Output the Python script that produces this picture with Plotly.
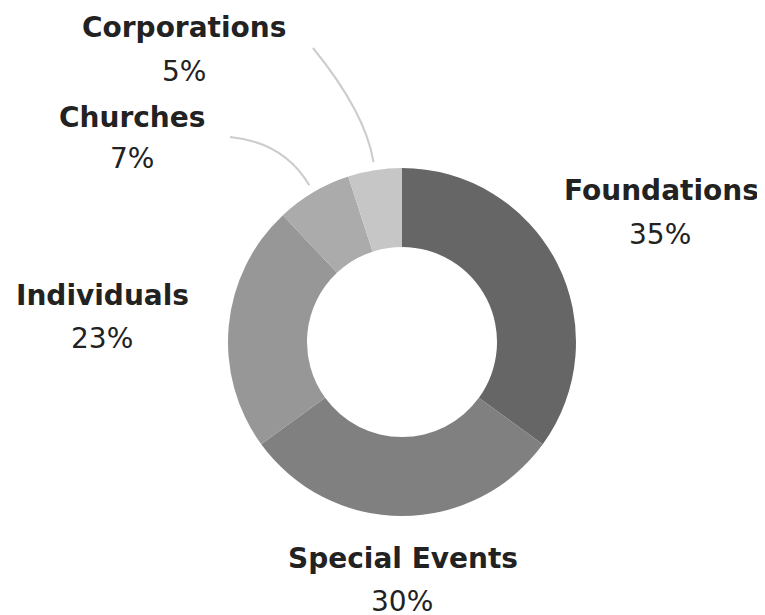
import math
import plotly.graph_objects as go

# ---- data ----
labels = ["Foundations", "Special Events", "Individuals", "Churches", "Corporations"]
values = [35, 30, 23, 7, 5]
pct_text = ["35%", "30%", "23%", "7%", "5%"]
colors = ["#666666", "#808080", "#979797", "#ababab", "#c6c6c6"]

# ---- layout config (pixels in the 765x615 window) ----
OFF = 8  # page body margin
W, H = 765 - OFF, 615 - OFF
CX, CY, R_OUT = 402, 342, 174
HOLE = 95 / 174
name_pos = {
    "Foundations": (661, 190),
    "Special Events": (403, 558),
    "Individuals": (102, 295),
    "Churches": (132, 117),
    "Corporations": (184, 28),
}
pct_pos = {
    "Foundations": (660, 234),
    "Special Events": (402, 601),
    "Individuals": (102, 338),
    "Churches": (132, 158),
    "Corporations": (184, 72),
}
leader_start = {"Churches": (230, 137), "Corporations": (313, 48)}


def px(x):
    return (x - OFF) / W


def py(y):
    return 1 - (y - OFF) / H


fig = go.Figure(
    go.Pie(
        labels=labels,
        values=values,
        sort=False,
        direction="clockwise",
        rotation=0,
        hole=HOLE,
        marker=dict(colors=colors, line=dict(width=0)),
        textinfo="none",
        hoverinfo="label+percent",
        showlegend=False,
        domain=dict(x=[px(CX - R_OUT), px(CX + R_OUT)], y=[py(CY + R_OUT), py(CY - R_OUT)]),
    )
)

annotations = []
for lab, pt in zip(labels, pct_text):
    nx, ny = name_pos[lab]
    annotations.append(dict(x=px(nx), y=py(ny), xref="paper", yref="paper", text=f"<b>{lab}</b>",
                            showarrow=False, xanchor="center", yanchor="middle",
                            font=dict(family="DejaVu Sans", size=28, color="#222222")))
    qx, qy = pct_pos[lab]
    annotations.append(dict(x=px(qx), y=py(qy), xref="paper", yref="paper", text=pt,
                            showarrow=False, xanchor="center", yanchor="middle",
                            font=dict(family="DejaVu Sans", size=28, color="#222222")))

total = sum(values)
cum = 0
mids = {}
for lab, v in zip(labels, values):
    mids[lab] = (cum + v / 2) / total * 2 * math.pi
    cum += v

shapes = []
for lab, (sx, sy) in leader_start.items():
    a = mids[lab]
    ex, ey = CX + 182 * math.sin(a), CY - 182 * math.cos(a)
    cx_, cy_ = CX + 232 * math.sin(a), CY - 232 * math.cos(a)
    path = f"M {px(sx)},{py(sy)} Q {px(cx_)},{py(cy_)} {px(ex)},{py(ey)}"
    shapes.append(dict(type="path", path=path, xref="paper", yref="paper",
                       line=dict(color="#cccccc", width=2)))

fig.update_layout(
    width=W, height=H,
    margin=dict(l=0, r=0, t=0, b=0),
    paper_bgcolor="white", plot_bgcolor="white",
    annotations=annotations, shapes=shapes,
)

fig.write_html("out.html")
